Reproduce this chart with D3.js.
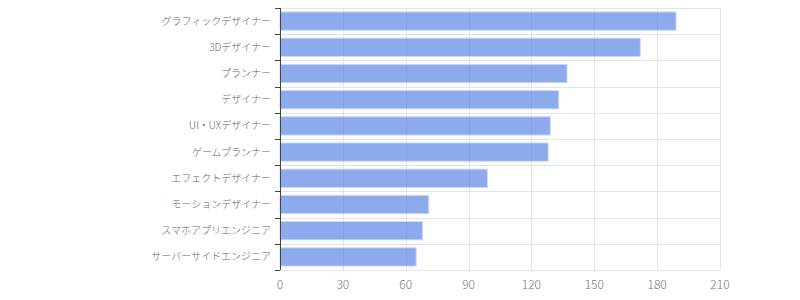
<!DOCTYPE html>
<html>
<head>
<meta charset="utf-8">
<script src="https://cdn.jsdelivr.net/npm/d3@7"></script>
<style>
  body { margin: 0; background: #fff; }
  text { font-family: "Noto Sans CJK JP", "Noto Sans", sans-serif; }
</style>
</head>
<body>
<div id="chart"></div>
<script>
// data
const jobs = ["グラフィックデザイナー", "3Dデザイナー", "プランナー", "デザイナー", "UI・UXデザイナー",
  "ゲームプランナー", "エフェクトデザイナー", "モーションデザイナー", "スマホアプリエンジニア", "サーバーサイドエンジニア"];
const counts = [189, 172, 137, 133, 129, 128, 99, 71, 68, 65];
const xTicks = [0, 30, 60, 90, 120, 150, 180, 210];

const width = 800, height = 300,
  margin = { top: 8, right: 80, bottom: 30, left: 280 };

const svg = d3.select("#chart").append("svg")
  .attr("width", width)
  .attr("height", height);

const x = d3.scaleLinear()
  .domain([0, 210])
  .range([margin.left, width - margin.right]);

const y = d3.scaleBand()
  .domain(jobs)
  .range([margin.top, height - margin.bottom])
  .paddingInner(0.3)
  .paddingOuter(0.15);

const gridColor = "#dfe4f1";

// horizontal grid at band boundaries
const step = y.step();
const bounds = d3.range(jobs.length + 1).map(i => margin.top + i * step);
svg.append("g")
  .selectAll("line")
  .data(bounds)
  .join("line")
  .attr("x1", x(0))
  .attr("x2", x(210))
  .attr("y1", d => Math.round(d) + 0.5)
  .attr("y2", d => Math.round(d) + 0.5)
  .attr("stroke", gridColor);

// vertical grid
svg.append("g")
  .selectAll("line")
  .data(xTicks.slice(1))
  .join("line")
  .attr("x1", d => Math.round(x(d)) + 0.5)
  .attr("x2", d => Math.round(x(d)) + 0.5)
  .attr("y1", margin.top)
  .attr("y2", height - margin.bottom)
  .attr("stroke", gridColor);

// bars
svg.append("g")
  .selectAll("rect")
  .data(jobs)
  .join("rect")
  .attr("x", x(0))
  .attr("y", d => y(d))
  .attr("width", (d, i) => x(counts[i]) - x(0))
  .attr("height", y.bandwidth())
  .attr("fill", "rgb(80,125,228)")
  .attr("fill-opacity", 0.65)
  .attr("stroke", "#cdd9f7")
  .attr("stroke-width", 1);

// x axis labels
svg.append("g")
  .selectAll("text")
  .data(xTicks)
  .join("text")
  .attr("x", d => x(d))
  .attr("y", height - margin.bottom + 19)
  .attr("text-anchor", "middle")
  .attr("font-size", 12)
  .attr("font-weight", 300)
  .attr("fill", "#777")
  .text(d => d);

// y axis line + ticks
const yAxis = svg.append("g");
yAxis.append("line")
  .attr("x1", x(0) + 0.5)
  .attr("x2", x(0) + 0.5)
  .attr("y1", margin.top)
  .attr("y2", height - margin.bottom)
  .attr("stroke", "#444");
yAxis.selectAll("line.tick")
  .data(bounds)
  .join("line")
  .attr("class", "tick")
  .attr("x1", x(0) - 5)
  .attr("x2", x(0))
  .attr("y1", d => Math.round(d) + 0.5)
  .attr("y2", d => Math.round(d) + 0.5)
  .attr("stroke", "#444");

yAxis.selectAll("text")
  .data(jobs)
  .join("text")
  .attr("x", x(0) - 9)
  .attr("y", d => y(d) + y.bandwidth() / 2)
  .attr("dy", "0.35em")
  .attr("text-anchor", "end")
  .attr("font-size", 10)
  .attr("font-weight", 300)
  .attr("fill", "#666")
  .text(d => d);
</script>
</body>
</html>
